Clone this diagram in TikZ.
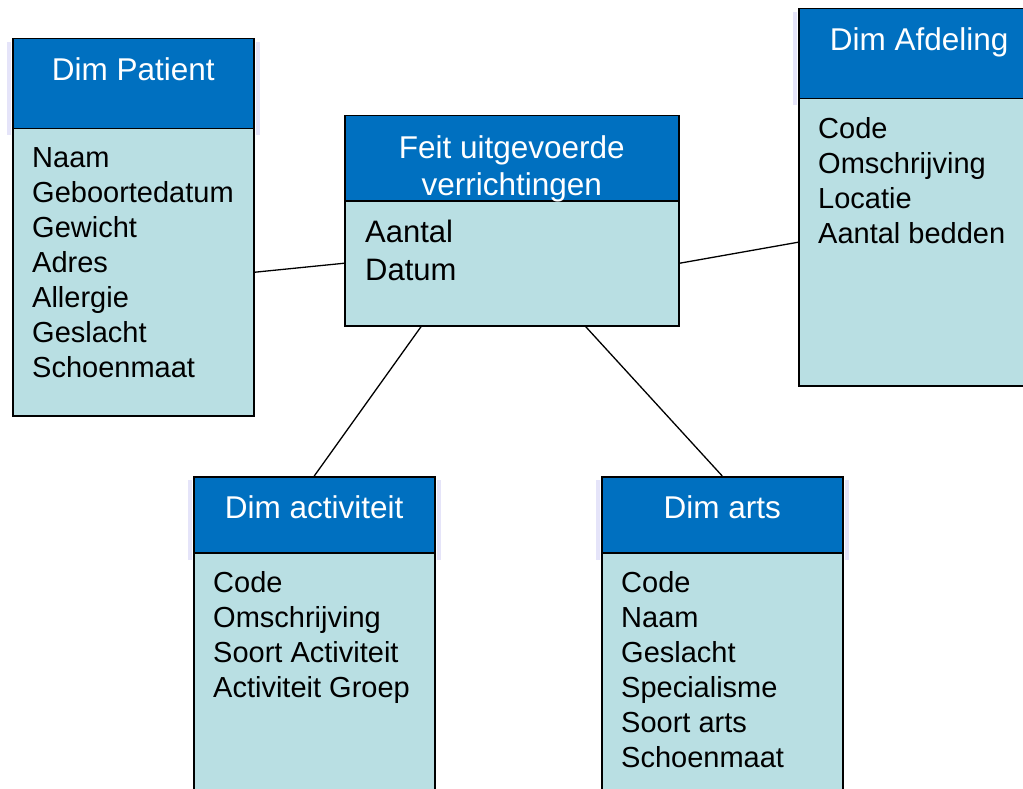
\documentclass[tikz,border=0pt]{standalone}
\usepackage{fontspec}
\setmainfont{Liberation Sans}
\usetikzlibrary{calc}
\definecolor{headblue}{RGB}{0,112,192}
\definecolor{bodycyan}{RGB}{185,223,227}
\definecolor{glowblue}{RGB}{170,165,235}
\tikzset{
    tabhead/.style={draw, fill=headblue, line width=1.5pt, anchor=north west, inner sep=0pt,
        minimum width=241pt, minimum height=90pt},
    tabbody/.style={draw, fill=bodycyan, line width=1.5pt, anchor=north west, inner sep=0pt,
        minimum width=241pt, minimum height=287pt},
    tabtitle/.style={anchor=north, inner sep=0pt, text=white, align=center,
        font=\fontsize{31.5}{37}\selectfont},
    tabitems/.style={anchor=north west, inner sep=0pt, align=left,
        font=\fontsize{29}{35}\selectfont},
    glow/.style={fill=glowblue, opacity=0.3},
    link/.style={line width=1.3pt},
}

\begin{document}
\begin{tikzpicture}[x=1pt, y=-1pt]
    \useasboundingbox (0,0) rectangle (1023,789);
    \clip (0,0) rectangle (1023,789);

    % Dim Patient
    \node[tabhead] (pathead) at (12,38) {};
    \node[tabbody] (patbody) at (12,128) {};
    \node[tabtitle] (pattitle) at ($(pathead.north)+(0,19)$) {Dim Patient};
    \node[tabitems] (patitems) at ($(patbody.north west)+(20,19)$)
        {Naam\\Geboortedatum\\Gewicht\\Adres\\Allergie\\Geslacht\\Schoenmaat};

    % Feit
    \node[tabhead, minimum width=334pt, minimum height=85pt] (feithead) at (344,115) {};
    \node[tabbody, minimum width=334pt, minimum height=125pt] (feitbody) at (344,200) {};
    \node[tabtitle] (feittitle) at ($(feithead.north)+(0,20)$) {Feit uitgevoerde\\verrichtingen};
    \node[tabitems, font=\fontsize{31}{38}\selectfont] (feititems) at ($(feitbody.north west)+(21,20)$)
        {Aantal\\Datum};

    % Dim Afdeling
    \node[tabhead] (afdhead) at (798,8) {};
    \node[tabbody] (afdbody) at (798,98) {};
    \node[tabtitle] (afdtitle) at ($(afdhead.north)+(0,19)$) {Dim Afdeling};
    \node[tabitems] (afditems) at ($(afdbody.north west)+(20,19)$)
        {Code\\Omschrijving\\Locatie\\Aantal bedden};

    % Dim activiteit
    \node[tabhead, minimum height=76pt] (acthead) at (193,476) {};
    \node[tabbody, minimum height=300pt] (actbody) at (193,552) {};
    \node[tabtitle] (acttitle) at ($(acthead.north)+(0,19)$) {Dim activiteit};
    \node[tabitems] (actitems) at ($(actbody.north west)+(20,19)$)
        {Code\\Omschrijving\\Soort Activiteit\\Activiteit Groep};

    % Dim arts
    \node[tabhead, minimum height=76pt] (artshead) at (601,476) {};
    \node[tabbody, minimum height=300pt] (artsbody) at (601,552) {};
    \node[tabtitle] (artstitle) at ($(artshead.north)+(0,19)$) {Dim arts};
    \node[tabitems] (artsitems) at ($(artsbody.north west)+(20,19)$)
        {Code\\Naam\\Geslacht\\Specialisme\\Soort arts\\Schoenmaat};

    % gloed langs de koppen
    \fill[glow] ($(pathead.north west)+(-5,4)$) rectangle ($(pathead.south west)+(-1,6)$);
    \fill[glow] ($(pathead.north east)+(1,4)$) rectangle ($(pathead.south east)+(5,6)$);
    \fill[glow] ($(afdhead.north west)+(-5,4)$) rectangle ($(afdhead.south west)+(-1,6)$);
    \fill[glow] ($(acthead.north west)+(-5,4)$) rectangle ($(acthead.south west)+(-1,6)$);
    \fill[glow] ($(acthead.north east)+(1,4)$) rectangle ($(acthead.south east)+(5,6)$);
    \fill[glow] ($(artshead.north west)+(-5,4)$) rectangle ($(artshead.south west)+(-1,6)$);
    \fill[glow] ($(artshead.north east)+(1,4)$) rectangle ($(artshead.south east)+(5,6)$);

    % verbindingen
    \draw[link] (patbody.east) -- (feitbody.west);
    \draw[link] (feitbody.east) -- (afdbody.west);
    \draw[link] ($(feitbody.south west)!0.23!(feitbody.south east)$) -- (acthead.north);
    \draw[link] ($(feitbody.south west)!0.72!(feitbody.south east)$) -- (artshead.north);
\end{tikzpicture}
\end{document}
